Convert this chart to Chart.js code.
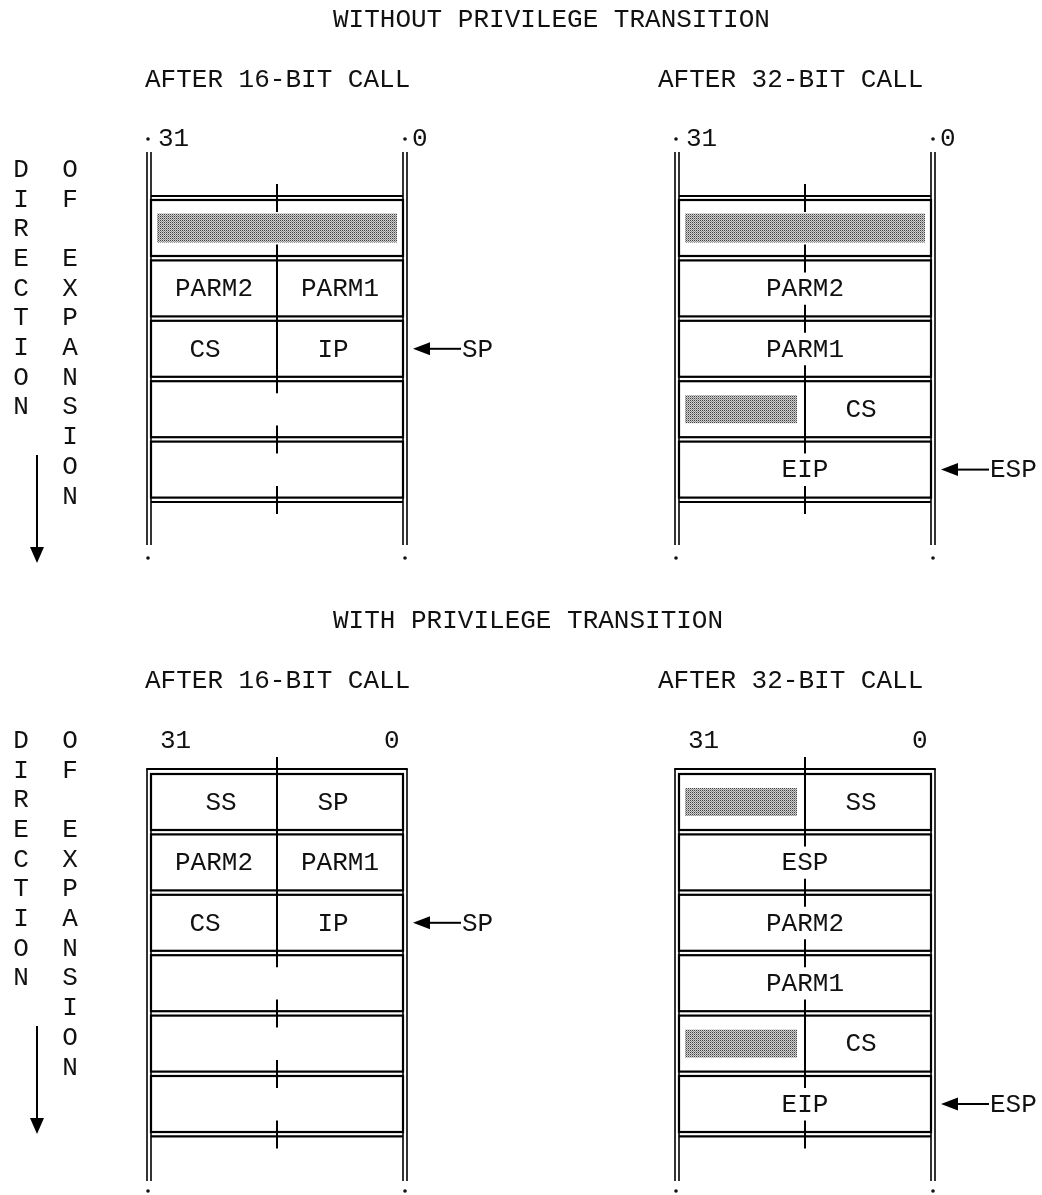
<!DOCTYPE html>
<html>
<head>
<meta charset="utf-8">
<title>Stack contents after CALL</title>
<script src="https://cdn.jsdelivr.net/npm/chart.js@4.4.1/dist/chart.umd.min.js"></script>
<style>
  html, body { margin: 0; background: #fff; }
  #wrap { position: relative; width: 1042px; height: 1195px; }
</style>
</head>
<body>
<div id="wrap"><canvas id="stackChart"></canvas></div>
<script>
// Text of the figure
const sectionTitles = ['WITHOUT PRIVILEGE TRANSITION', 'WITH PRIVILEGE TRANSITION'];
const panelTitles = ['AFTER 16-BIT CALL', 'AFTER 32-BIT CALL'];
const bitLabels = ['31', '0'];
const directionWord = 'DIRECTION';
const expansionWords = 'OF EXPANSION';

// Stack contents, top to bottom. A string fills the whole dword,
// a pair is [high word, low word]. '#' is a shaded (unused) field.
const noPriv16 = ['#', ['PARM2', 'PARM1'], ['CS', 'IP'], '', ''];
const noPriv32 = ['#', 'PARM2', 'PARM1', ['#', 'CS'], 'EIP'];
const priv16 = [['SS', 'SP'], ['PARM2', 'PARM1'], ['CS', 'IP'], '', '', ''];
const priv32 = [['#', 'SS'], 'ESP', 'PARM2', 'PARM1', ['#', 'CS'], 'EIP'];

// which row the stack pointer points at, and its name
const pointerRows = [2, 4, 2, 5];
const pointerNames = ['SP', 'ESP', 'SP', 'ESP'];

// Layout (page units, mapped through the chart scales)
const FONT = '26px "Liberation Mono", monospace';
const layout = {
  titleX: 333,
  headingX: [145, 658],
  panelLeft: [151, 679],
  boxWidth: 252,
  rowPitch: 60.4,
  boxHeight: 56,
  dirX: [21, 70],
  arrowX: 37,
  dirPitch: 29.7,
  // short labels sit on the character grid, a little off the half centre
  halfNudge: [{ CS: -9, SS: 7 }, { CS: -7, SS: -7, IP: -7, SP: -7 }],
  sections: [
    { titleY: 20, headY: 80, bitY: 139, bitDots: true, bitX: [7, 261],
      frameTop: 152, openTop: 196, firstRow: 200, frameBottom: 545, dotY: 558,
      dirY: 170, arrowTop: 455, arrowBottom: 547 },
    { titleY: 621, headY: 681, bitY: 741, bitDots: false, bitX: [9, 233],
      frameTop: 769, openTop: null, firstRow: 774, frameBottom: 1181, dotY: 1191,
      dirY: 741, arrowTop: 1026, arrowBottom: 1118 }
  ]
};

const stacks = [
  { rows: noPriv16, section: 0, panel: 0 },
  { rows: noPriv32, section: 0, panel: 1 },
  { rows: priv16, section: 1, panel: 0 },
  { rows: priv32, section: 1, panel: 1 }
];

function makeShade(ctx) {
  const c = document.createElement('canvas');
  c.width = 2; c.height = 2;
  const g = c.getContext('2d');
  g.fillStyle = '#d0d0d0'; g.fillRect(0, 0, 2, 2);
  g.fillStyle = '#404040'; g.fillRect(0, 0, 1, 1);
  g.fillStyle = '#909090'; g.fillRect(1, 1, 1, 1);
  return ctx.createPattern(c, 'repeat');
}

const stackPlugin = {
  id: 'stackDiagram',
  afterDraw(chart) {
    const ctx = chart.ctx;
    const X = v => chart.scales.x.getPixelForValue(v);
    const Y = v => chart.scales.y.getPixelForValue(v);
    const shade = makeShade(ctx);

    ctx.save();
    ctx.font = FONT;
    ctx.fillStyle = '#111';
    ctx.strokeStyle = '#000';
    ctx.textBaseline = 'middle';

    const line = (x1, y1, x2, y2, w) => {
      ctx.lineWidth = w || 2;
      ctx.beginPath();
      ctx.moveTo(X(x1), Y(y1));
      ctx.lineTo(X(x2), Y(y2));
      ctx.stroke();
    };
    const text = (s, x, y, align) => {
      ctx.textAlign = align || 'left';
      ctx.fillText(s, X(x), Y(y));
    };

    layout.sections.forEach((sec, si) => {
      text(sectionTitles[si], layout.titleX, sec.titleY);
      panelTitles.forEach((t, pi) => text(t, layout.headingX[pi], sec.headY));

      // direction of expansion, written vertically
      directionWord.split('').forEach((ch, i) => text(ch, layout.dirX[0], sec.dirY + i * layout.dirPitch, 'center'));
      expansionWords.split('').forEach((ch, i) => {
        if (ch !== ' ') text(ch, layout.dirX[1], sec.dirY + i * layout.dirPitch, 'center');
      });
      line(layout.arrowX, sec.arrowTop, layout.arrowX, sec.arrowBottom, 2);
      ctx.beginPath();
      ctx.moveTo(X(layout.arrowX - 7), Y(sec.arrowBottom));
      ctx.lineTo(X(layout.arrowX + 7), Y(sec.arrowBottom));
      ctx.lineTo(X(layout.arrowX), Y(sec.arrowBottom + 16));
      ctx.closePath();
      ctx.fillStyle = '#000';
      ctx.fill();
      ctx.fillStyle = '#111';
    });

    stacks.forEach((st, k) => {
      const sec = layout.sections[st.section];
      const left = layout.panelLeft[st.panel];
      const right = left + layout.boxWidth;
      const mid = left + layout.boxWidth / 2;
      const n = st.rows.length;
      const rowTop = i => sec.firstRow + i * layout.rowPitch;
      const openBottom = rowTop(n);

      // bit numbers over the frame
      if (sec.bitDots) {
        ctx.beginPath(); ctx.arc(X(left - 3), Y(sec.bitY), 1.8, 0, Math.PI * 2); ctx.fill();
        ctx.beginPath(); ctx.arc(X(right + 2), Y(sec.bitY), 1.8, 0, Math.PI * 2); ctx.fill();
      }
      text(bitLabels[0], left + sec.bitX[0], sec.bitY);
      text(bitLabels[1], left + sec.bitX[1], sec.bitY);

      // outer double rails
      line(left - 4, sec.frameTop, left - 4, sec.frameBottom, 1.6);
      line(right + 4, sec.frameTop, right + 4, sec.frameBottom, 1.6);
      const innerTop = sec.openTop ? sec.frameTop : sec.firstRow;
      line(left, innerTop, left, sec.frameBottom, 1.6);
      line(right, innerTop, right, sec.frameBottom, 1.6);
      if (sec.openTop) {
        line(left, sec.openTop, right, sec.openTop, 2.2);
      } else {
        line(left - 4.8, sec.frameTop, right + 4.8, sec.frameTop, 2.2);
      }

      // dword boxes
      st.rows.forEach((cell, i) => {
        const top = rowTop(i);
        const bottom = top + layout.boxHeight;
        const cy = top + layout.boxHeight / 2;
        ctx.lineWidth = 2.2;
        ctx.strokeRect(X(left), Y(top), X(right) - X(left), Y(bottom) - Y(top));
        if (Array.isArray(cell)) {
          line(mid, top, mid, bottom, 2);
          cell.forEach((part, h) => {
            const x0 = h === 0 ? left : mid;
            const x1 = h === 0 ? mid : right;
            if (part === '#') {
              ctx.fillStyle = shade;
              ctx.fillRect(X(x0 + 6), Y(cy - 14), X(x1 - 8) - X(x0 + 6), Y(cy + 14) - Y(cy - 14));
              ctx.fillStyle = '#111';
            } else if (part) {
              const nudge = layout.halfNudge[h][part] || 0;
              text(part, (x0 + x1) / 2 + nudge, cy + 1, 'center');
            }
          });
        } else if (cell === '#') {
          ctx.fillStyle = shade;
          ctx.fillRect(X(left + 6), Y(cy - 14.5), X(right - 6) - X(left + 6), Y(cy + 14.5) - Y(cy - 14.5));
          ctx.fillStyle = '#111';
        } else if (cell) {
          text(cell, mid, cy + 1, 'center');
        }
      });
      line(left, openBottom, right, openBottom, 2.2);

      // short ticks where the halfword boundary crosses the box edges
      const edges = [sec.openTop ? (sec.openTop + sec.firstRow) / 2 : sec.frameTop + 2];
      for (let i = 1; i <= n; i++) edges.push(rowTop(i) - 2);
      edges.forEach(b => line(mid, b - 14, mid, b + 14, 2));

      // bottom dots
      ctx.beginPath(); ctx.arc(X(left - 3), Y(sec.dotY), 1.8, 0, Math.PI * 2); ctx.fill();
      ctx.beginPath(); ctx.arc(X(right + 2), Y(sec.dotY), 1.8, 0, Math.PI * 2); ctx.fill();

      // stack pointer arrow
      const py = rowTop(pointerRows[k]) + layout.boxHeight / 2;
      const tip = right + 10;
      ctx.fillStyle = '#000';
      ctx.beginPath();
      ctx.moveTo(X(tip), Y(py));
      ctx.lineTo(X(tip + 17), Y(py - 6.5));
      ctx.lineTo(X(tip + 17), Y(py + 6.5));
      ctx.closePath();
      ctx.fill();
      line(tip + 17, py, tip + 48, py, 2);
      ctx.fillStyle = '#111';
      text(pointerNames[k], tip + 49, py + 1);
    });

    ctx.restore();
  }
};

new Chart(document.getElementById('stackChart'), {
  type: 'scatter',
  data: { datasets: [] },
  options: {
    responsive: true,
    maintainAspectRatio: false,
    animation: false,
    layout: { padding: 0 },
    plugins: { legend: { display: false }, tooltip: { enabled: false } },
    scales: {
      x: { type: 'linear', min: 0, max: 1042, display: false },
      y: { type: 'linear', min: 0, max: 1195, reverse: true, display: false }
    }
  },
  plugins: [stackPlugin]
});
</script>
</body>
</html>
